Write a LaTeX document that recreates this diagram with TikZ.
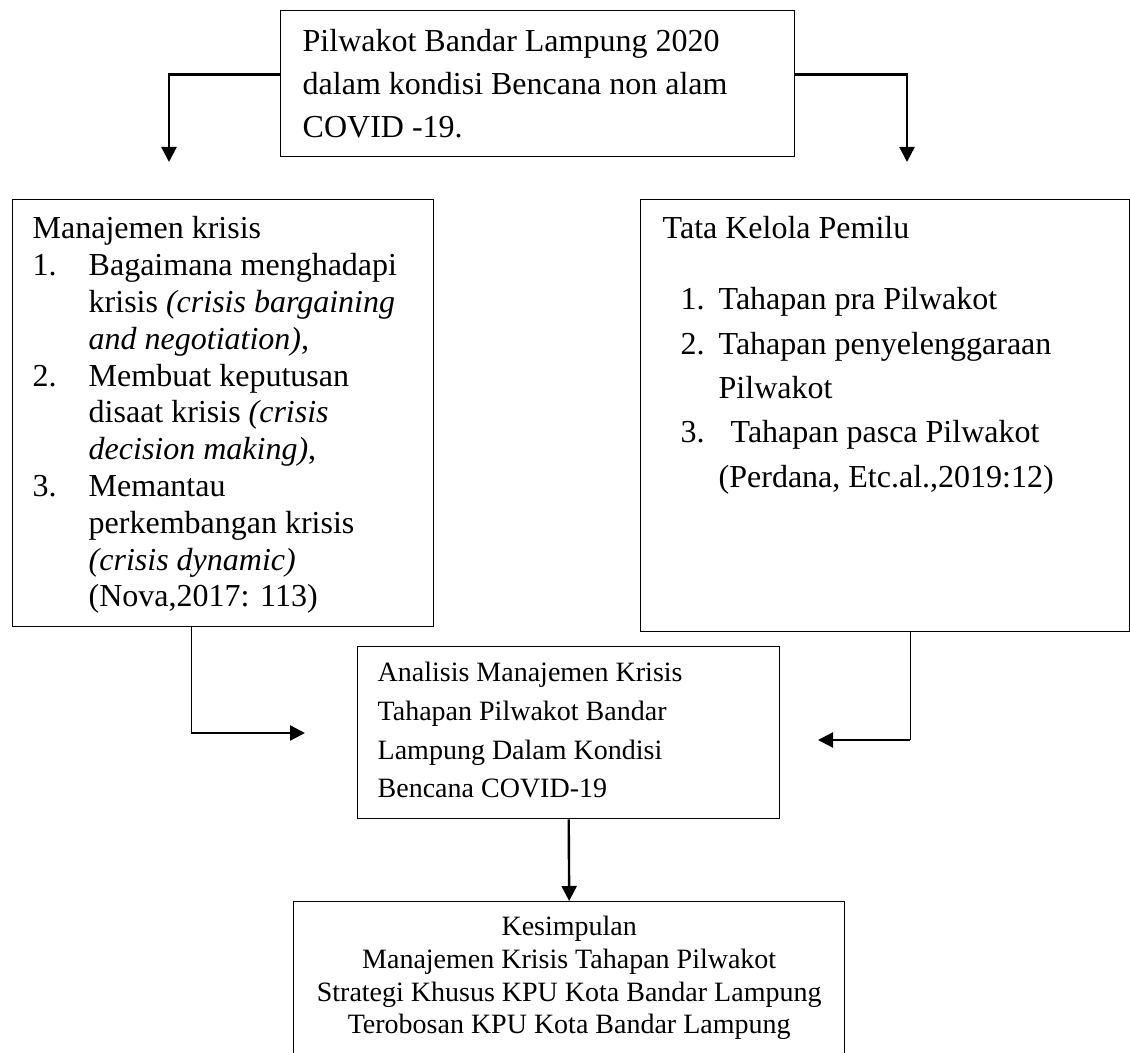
\documentclass[tikz,border=0pt]{standalone}
\usepackage{fontspec}
\setmainfont{Liberation Serif}
\usetikzlibrary{arrows.meta}
\newcommand{\butir}[2][0pt]{\hspace*{#1}\makebox[\dimexpr28pt-#1\relax][l]{#2}}
\newcommand{\lanjut}{\hspace*{28pt}}

\begin{document}
\begin{tikzpicture}[x=0.5pt,y=-0.5pt,
	kotak/.style = {draw, rectangle, line width=0.7pt, anchor=north west, inner sep=0pt},
	panah/.style = {line width=1.2pt, -{Triangle[length=7.5pt,width=7.5pt]}},
	tipis/.style = {line width=0.5pt}]
				\useasboundingbox (0,0) rectangle (1130,1053);
				\clip (0,0) rectangle (1130,1053);
				\node[kotak, inner xsep=11pt, inner ysep=9.5pt, font=\fontsize{16}{21.5}\selectfont] (pilwakot) at (280,10) {\parbox[t][54pt][t]{235pt}{\raggedright Pilwakot Bandar Lampung 2020\\dalam kondisi Bencana non alam\\COVID -19.}};
				\node[kotak, inner xsep=10pt, inner ysep=8.5pt, font=\fontsize{16}{18.4}\selectfont] (krisis) at (12,199) {\parbox[t][196.5pt][t]{190.5pt}{\raggedright Manajemen krisis\\
					\butir{1.}Bagaimana menghadapi\\
					\lanjut krisis \textit{(crisis bargaining}\\
					\lanjut\textit{and negotiation)},\\
					\butir{2.}Membuat keputusan\\
					\lanjut disaat krisis \textit{(crisis}\\
					\lanjut\textit{decision making)},\\
					\butir{3.}Memantau\\
					\lanjut perkembangan krisis\\
					\lanjut\textit{(crisis dynamic)}\\
					\lanjut(Nova,2017: 113)}};
				\node[kotak, inner xsep=11pt, inner ysep=8.5pt, font=\fontsize{16}{22.15}\selectfont] (pemilu) at (640,199) {\parbox[t][199pt][t]{222.5pt}{\raggedright Tata Kelola Pemilu\\[13.4pt]
					\butir[9pt]{1.}Tahapan pra Pilwakot\\
					\butir[9pt]{2.}Tahapan penyelenggaraan\\
					\lanjut Pilwakot\\
					\butir[9pt]{3.}\hspace*{6pt}Tahapan pasca Pilwakot\\
					\lanjut(Perdana, Etc.al.,2019:12)}};
				\node[kotak, inner xsep=10pt, inner ysep=7.7pt, font=\fontsize{14}{19.4}\selectfont] (analisis) at (357,646) {\parbox[t][70.6pt][t]{191pt}{\raggedright Analisis Manajemen Krisis\\Tahapan Pilwakot Bandar\\Lampung Dalam Kondisi\\Bencana COVID-19}};
				\node[kotak, inner xsep=5pt, inner ysep=7.35pt, font=\fontsize{14}{16.35}\selectfont] (kesimpulan) at (293,901) {\parbox[t][85.3pt][t]{265.5pt}{\centering Kesimpulan\\Manajemen Krisis Tahapan Pilwakot\\Strategi Khusus KPU Kota Bandar Lampung\\Terobosan KPU Kota Bandar Lampung}};
				\coordinate (ujungkiri) at (169,162);
				\coordinate (ujungkanan) at (907,162);
				\coordinate (belokkiri) at (191,733);
				\coordinate (masukkiri) at (305,733);
				\coordinate (belokkanan) at (910,740);
				\coordinate (masukkanan) at (818,740);
				\draw [panah] ([yshift=4.5pt]pilwakot.west) -| (ujungkiri);
				\draw [panah] ([yshift=4.5pt]pilwakot.east) -| (ujungkanan);
				\draw [tipis] (krisis.south -| belokkiri) -- (belokkiri);
				\draw [panah] (belokkiri) -- (masukkiri);
				\draw [tipis] (pemilu.south -| belokkanan) -- (belokkanan);
				\draw [panah] (belokkanan) -- (masukkanan);
				\draw [panah] (analisis.south) -- (kesimpulan.north);
\end{tikzpicture}
\end{document}
